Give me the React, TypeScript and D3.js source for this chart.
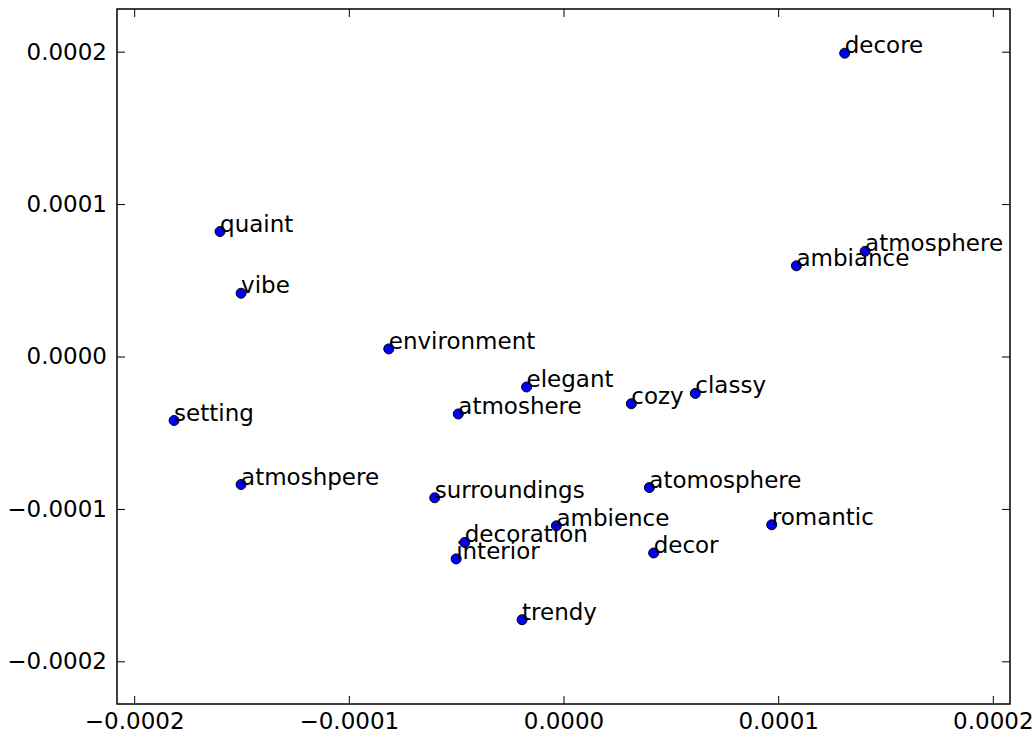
import React, { Component } from "react";
import * as d3 from "d3";

// words and their 2-d coordinates
const words = ["decore", "atmosphere", "ambiance", "quaint", "vibe", "environment", "setting",
  "elegant", "atmoshere", "cozy", "classy", "atmoshpere", "surroundings", "atomosphere",
  "ambience", "romantic", "decoration", "interior", "decor", "trendy"];
const xVals = [1.31e-4, 1.405e-4, 1.085e-4, -1.6e-4, -1.502e-4, -0.814e-4, -1.814e-4,
  -0.172e-4, -0.49e-4, 0.316e-4, 0.614e-4, -1.502e-4, -0.6e-4, 0.4e-4,
  -0.033e-4, 0.97e-4, -0.46e-4, -0.5e-4, 0.42e-4, -0.193e-4];
const yVals = [1.99e-4, 0.69e-4, 0.595e-4, 0.82e-4, 0.415e-4, 0.05e-4, -0.42e-4,
  -0.2e-4, -0.377e-4, -0.31e-4, -0.242e-4, -0.84e-4, -0.927e-4, -0.86e-4,
  -1.111e-4, -1.104e-4, -1.22e-4, -1.328e-4, -1.289e-4, -1.727e-4];

const xTicks = [-0.0002, -0.0001, 0, 0.0001, 0.0002];
const yTicks = [-0.0002, -0.0001, 0, 0.0001, 0.0002];
const xDomain = [-0.000208, 0.000208];
const yDomain = [-0.000228, 0.000228];

const fmt = (v: number) => (Math.abs(v) < 1e-12 ? "0.0000" : v.toFixed(4).replace("-", "\u2212"));

class App extends Component {
  svgRef = React.createRef<SVGSVGElement>();

  componentDidMount() {
    const width = 1036;
    const height = 736;
    const margin = { top: 9, right: 26, bottom: 32, left: 117 };
    const innerWidth = width - margin.left - margin.right;
    const innerHeight = height - margin.top - margin.bottom;
    const font = "'DejaVu Sans', sans-serif";
    const tickLen = 8;
    const fs = 23;

    const svg = d3.select(this.svgRef.current).attr("width", width).attr("height", height);
    svg.selectAll("*").remove();
    const g = svg.append("g").attr("transform", `translate(${margin.left}, ${margin.top})`);

    const xScale = d3.scaleLinear().domain(xDomain).range([0, innerWidth]);
    const yScale = d3.scaleLinear().domain(yDomain).range([innerHeight, 0]);

    // axes with inward ticks (bottom/left labelled, top/right mirrored)
    const xAxis = d3.axisBottom(xScale).tickValues(xTicks).tickSizeInner(-tickLen).tickSizeOuter(0).tickPadding(9).tickFormat(d => fmt(+d));
    const yAxis = d3.axisLeft(yScale).tickValues(yTicks).tickSizeInner(-tickLen).tickSizeOuter(0).tickPadding(10).tickFormat(d => fmt(+d));
    const xTop = d3.axisTop(xScale).tickValues(xTicks).tickSizeInner(-tickLen).tickSizeOuter(0).tickFormat(() => "");
    const yRight = d3.axisRight(yScale).tickValues(yTicks).tickSizeInner(-tickLen).tickSizeOuter(0).tickFormat(() => "");

    const gx = g.append("g").attr("transform", `translate(0, ${innerHeight})`).call(xAxis);
    const gy = g.append("g").call(yAxis);
    const gt = g.append("g").call(xTop);
    const gr = g.append("g").attr("transform", `translate(${innerWidth}, 0)`).call(yRight);

    [gx, gy, gt, gr].forEach(a => {
      a.select(".domain").remove();
      a.selectAll(".tick line").attr("stroke", "#000").attr("stroke-width", 1);
      a.selectAll(".tick text").attr("font-family", font).attr("font-size", fs).attr("fill", "#000");
    });

    // frame
    g.append("rect").attr("x", 0).attr("y", 0).attr("width", innerWidth).attr("height", innerHeight)
      .attr("fill", "none").attr("stroke", "#000").attr("stroke-width", 1.5);

    const idx = d3.range(words.length);

    g.selectAll("circle.pt").data(idx).join("circle").attr("class", "pt")
      .attr("cx", i => xScale(xVals[i])).attr("cy", i => yScale(yVals[i]))
      .attr("r", 5).attr("fill", "#0000ff").attr("stroke", "#000").attr("stroke-width", 1);

    g.selectAll("text.lbl").data(idx).join("text").attr("class", "lbl")
      .attr("x", i => xScale(xVals[i])).attr("y", i => yScale(yVals[i]))
      .attr("font-family", font).attr("font-size", fs).attr("fill", "#000")
      .text(i => words[i]);
  }

  render() {
    return (
      <svg ref={this.svgRef} style={{ position: "absolute", left: 0, top: 0, background: "#fff" }}></svg>
    );
  }
}

export default App;
